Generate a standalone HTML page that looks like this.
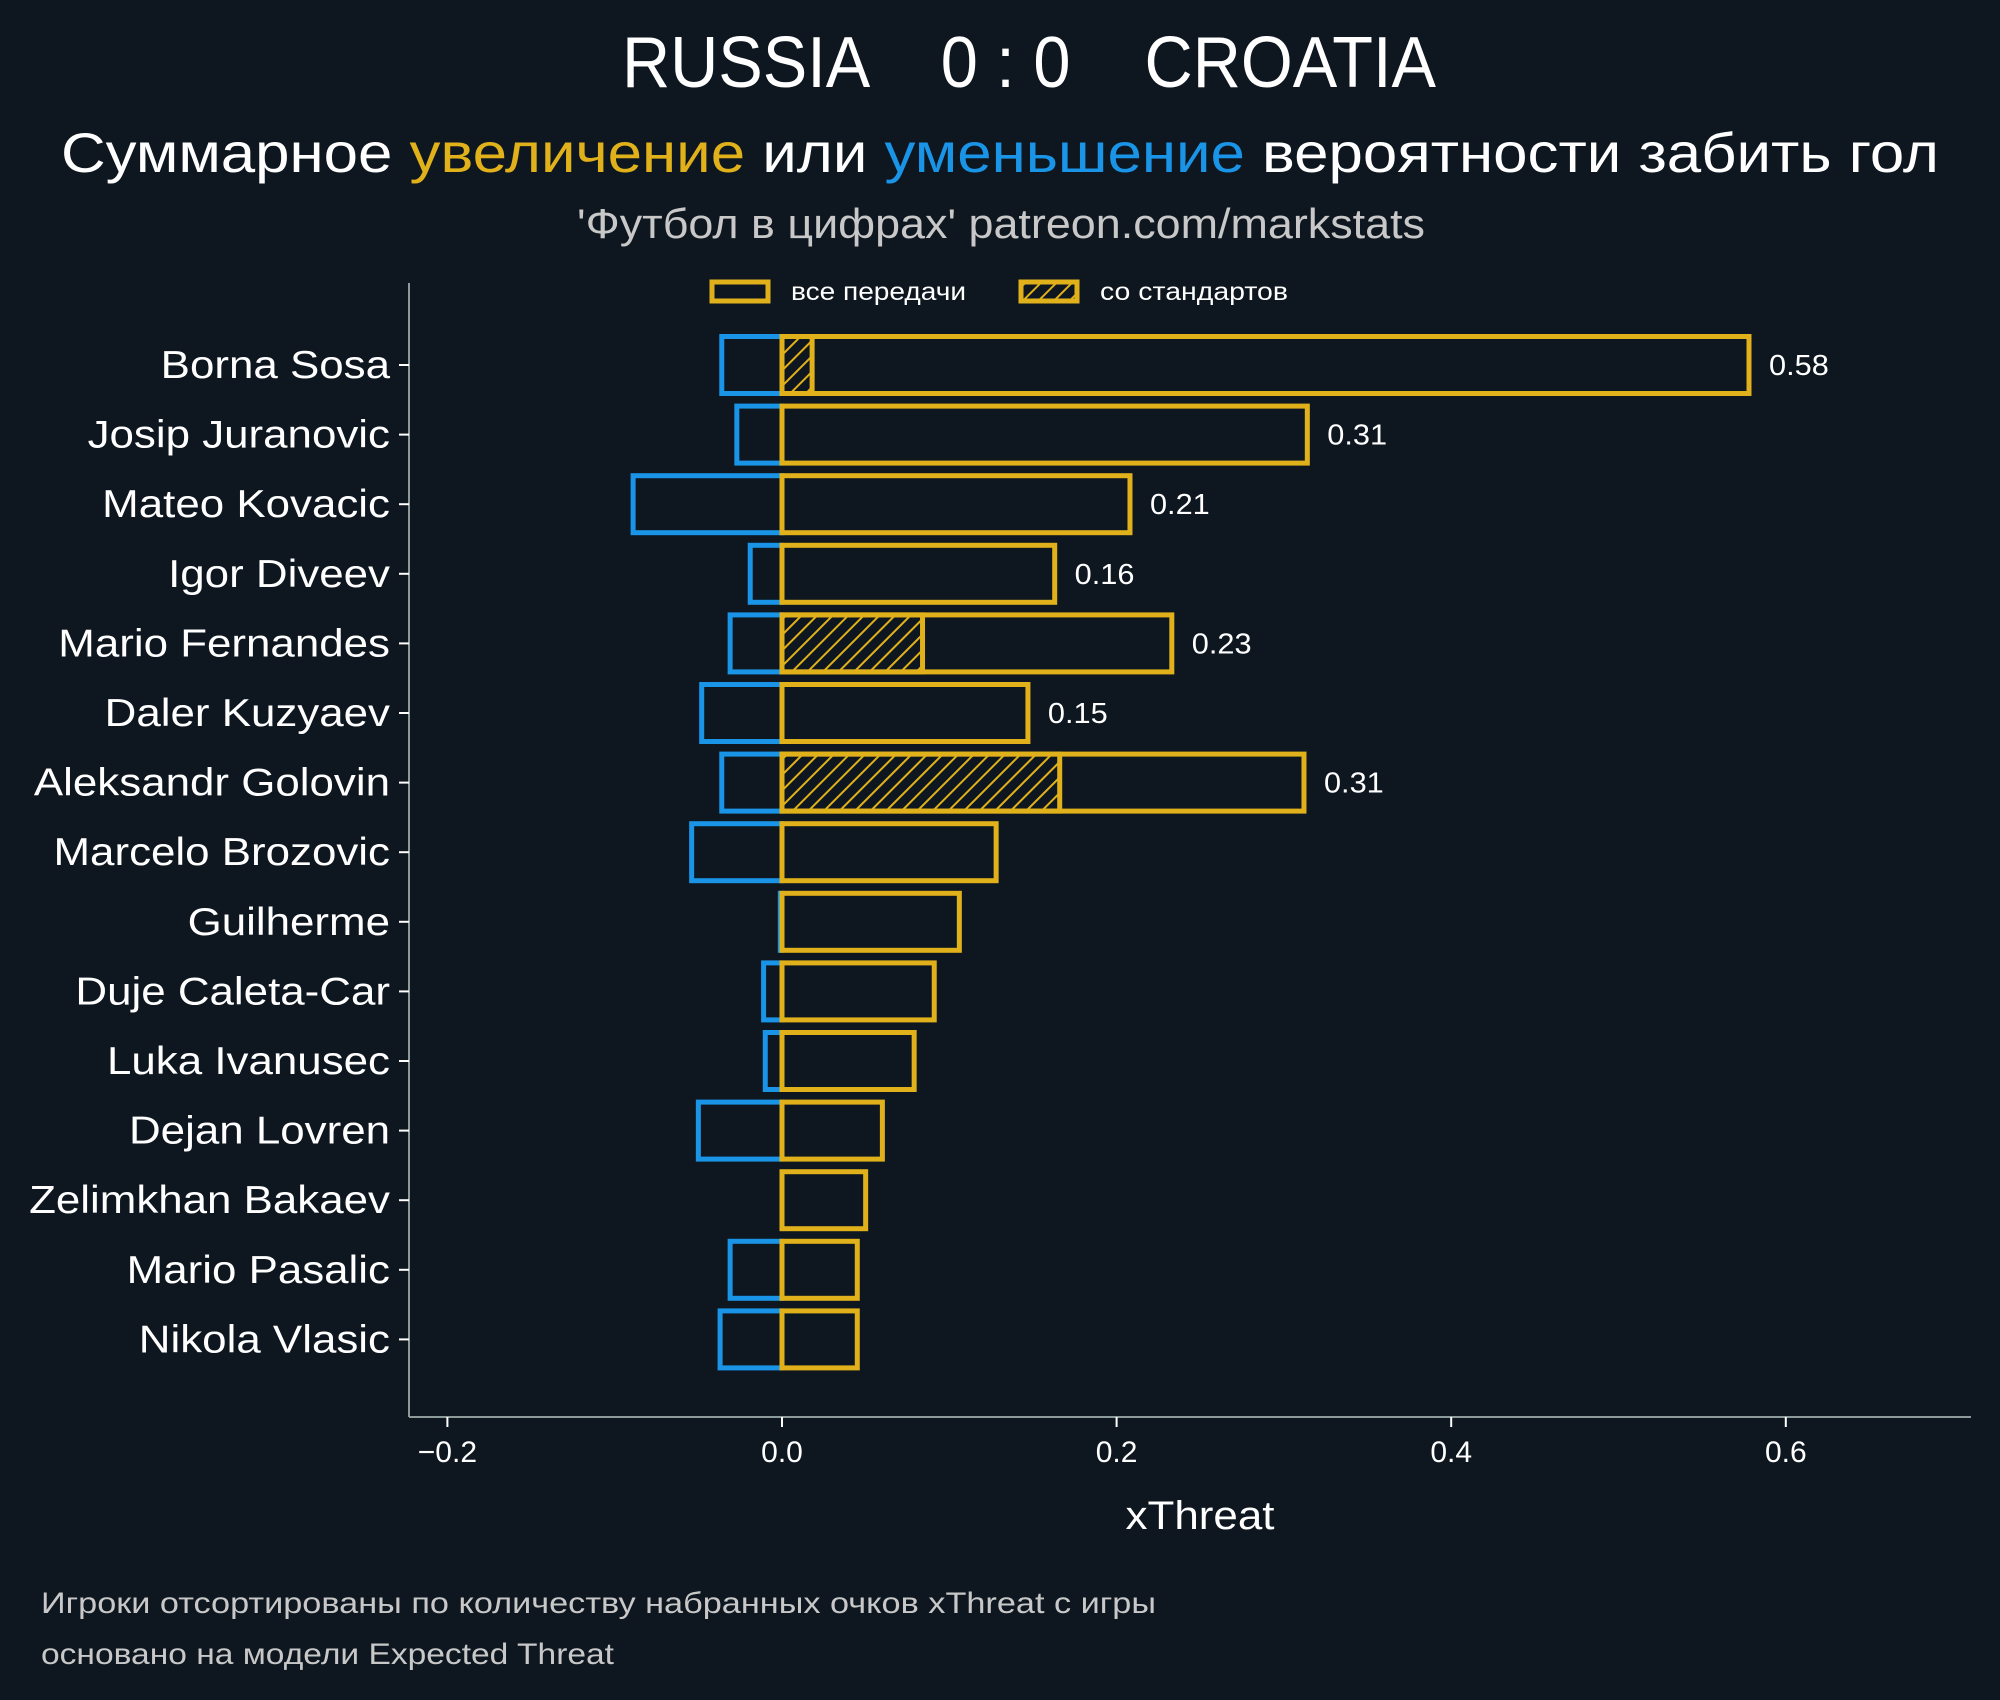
<!DOCTYPE html>
<html><head><meta charset="utf-8"><style>
html,body{margin:0;padding:0;background:#0e1720;}
svg{display:block;font-family:"Liberation Sans","DejaVu Sans",sans-serif;}
</style></head><body>
<svg id="chart" width="2000" height="1700" viewBox="0 0 2000 1700" xmlns="http://www.w3.org/2000/svg">
<defs>
<pattern id="hatch" patternUnits="userSpaceOnUse" width="11" height="11" patternTransform="rotate(45)">
<rect width="11" height="11" fill="#0e1720"/>
<line x1="0" y1="0" x2="0" y2="11" stroke="#e0b11a" stroke-width="4"/>
</pattern>
</defs>
<rect width="2000" height="1700" fill="#0e1720"/>
<text x="1029" y="87" text-anchor="middle" font-size="72" fill="#ffffff" textLength="814" lengthAdjust="spacingAndGlyphs" xml:space="preserve">RUSSIA    0 : 0    CROATIA</text>
<text x="1000" y="172" text-anchor="middle" font-size="56" fill="#ffffff" textLength="1878" lengthAdjust="spacingAndGlyphs">Суммарное <tspan fill="#e0b11a">увеличение</tspan> или <tspan fill="#1a94e6">уменьшение</tspan> вероятности забить гол</text>
<text x="1001" y="238" text-anchor="middle" font-size="42" fill="#c8c8c8" textLength="848" lengthAdjust="spacingAndGlyphs">'Футбол в цифрах' patreon.com/markstats</text>
<g>
<rect x="712" y="282" width="56" height="19" fill="none" stroke="#e0b11a" stroke-width="5"/>
<text x="791" y="300" font-size="25" fill="#ffffff" textLength="175" lengthAdjust="spacingAndGlyphs">все передачи</text>
<rect x="1021" y="282" width="56" height="19" fill="url(#hatch)" stroke="#e0b11a" stroke-width="5"/>
<text x="1100" y="300" font-size="25" fill="#ffffff" textLength="188" lengthAdjust="spacingAndGlyphs">со стандартов</text>
</g>
<g id="plot"></g>
<text x="1200" y="1529" text-anchor="middle" font-size="40" fill="#ffffff" textLength="149" lengthAdjust="spacingAndGlyphs">xThreat</text>
<text x="41" y="1613" font-size="30" fill="#c8c8c8" textLength="1115" lengthAdjust="spacingAndGlyphs">Игроки отсортированы по количеству набранных очков xThreat с игры</text>
<text x="41" y="1664" font-size="30" fill="#c8c8c8" textLength="573" lengthAdjust="spacingAndGlyphs">основано на модели Expected Threat</text>
</svg>
<script>
const players = ["Borna Sosa","Josip Juranovic","Mateo Kovacic","Igor Diveev","Mario Fernandes","Daler Kuzyaev","Aleksandr Golovin","Marcelo Brozovic","Guilherme","Duje Caleta-Car","Luka Ivanusec","Dejan Lovren","Zelimkhan Bakaev","Mario Pasalic","Nikola Vlasic"];
const positiveXT = [0.578,0.314,0.208,0.163,0.233,0.147,0.312,0.128,0.106,0.091,0.079,0.060,0.050,0.045,0.045];
const negativeXT = [-0.036,-0.027,-0.089,-0.019,-0.031,-0.048,-0.036,-0.054,-0.001,-0.011,-0.010,-0.050,0,-0.031,-0.037];
const setPieceXT = [0.018,0,0,0,0.084,0,0.166,0,0,0,0,0,0,0,0];
const valueLabels = ["0.58","0.31","0.21","0.16","0.23","0.15","0.31"];
const xTicks = [-0.2,0.0,0.2,0.4,0.6];
const xTickLabels = ["\u22120.2","0.0","0.2","0.4","0.6"];

const NS = "http://www.w3.org/2000/svg";
const plot = document.getElementById('plot');
const X0 = 782, XS = 1673;
const x = v => X0 + v * XS;
const Y0 = 365, YS = 69.6;
const y = i => Y0 + i * YS;
const BH = 57;
function mk(tag, attrs){const e=document.createElementNS(NS,tag);for(const k in attrs)e.setAttribute(k,attrs[k]);plot.appendChild(e);return e;}
function widen(t, f){const w=t.getComputedTextLength();if(w>0){t.setAttribute('textLength',(w*f).toFixed(1));t.setAttribute('lengthAdjust','spacingAndGlyphs');}}

let e = mk('line',{x1:409,y1:283,x2:409,y2:1417,stroke:'#8c9a9a','stroke-width':2});


e = mk('line',{x1:409,y1:1417,x2:1971,y2:1417,stroke:'#8c9a9a','stroke-width':2});



xTicks.forEach((t,i)=>{
  let tk = mk('line',{x1:x(t),y1:1417,x2:x(t),y2:1427,stroke:'#ffffff','stroke-width':2});
  
  
  let tl = mk('text',{x:x(t),y:1462,'text-anchor':'middle','font-size':30,fill:'#ffffff'});
  tl.textContent = xTickLabels[i];
  
  
});

players.forEach((p,i)=>{
  const cy = y(i), top = cy - BH/2;
  let tk = mk('line',{x1:399,y1:cy,x2:409,y2:cy,stroke:'#ffffff','stroke-width':2});
  
  
  let lb = mk('text',{x:390,y:cy+13,'text-anchor':'end','font-size':39,fill:'#ffffff'});
  lb.textContent = p;
  
  
  widen(lb, 1.125);
  if (negativeXT[i] < 0) {
    let nb = mk('rect',{x:x(negativeXT[i]),y:top,width:x(0)-x(negativeXT[i]),height:BH,fill:'none',stroke:'#1a94e6','stroke-width':5});
    
    
  }
  if (setPieceXT[i] > 0) {
    let hb = mk('rect',{x:x(0),y:top,width:x(setPieceXT[i])-x(0),height:BH,fill:'url(#hatch)',stroke:'#e0b11a','stroke-width':5});
    
    
  }
  let pb = mk('rect',{x:x(0),y:top,width:x(positiveXT[i])-x(0),height:BH,fill:'none',stroke:'#e0b11a','stroke-width':5});
  
  
  if (i < valueLabels.length) {
    let vl = mk('text',{x:x(positiveXT[i])+20,y:cy+10,'font-size':29,fill:'#ffffff'});
    vl.textContent = valueLabels[i];
    
    
    widen(vl, 1.06);
  }
});
</script>
</body></html>
